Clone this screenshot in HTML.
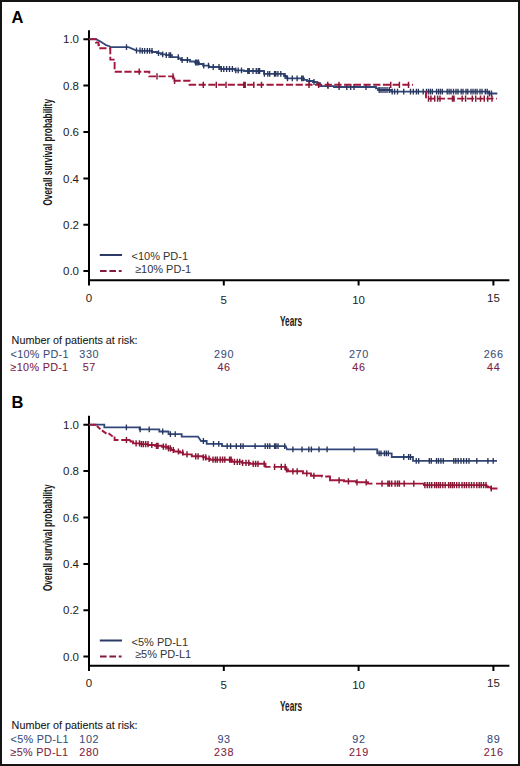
<!DOCTYPE html>
<html><head><meta charset="utf-8"><style>
html,body{margin:0;padding:0;background:#fff;}
body{width:520px;height:766px;overflow:hidden;position:relative;}
.frame{position:absolute;left:0;top:0;width:520px;height:766px;box-sizing:border-box;border:2px solid #141414;border-bottom-width:2.5px;}
svg{position:absolute;left:0;top:0;}
text{font-family:"Liberation Sans",sans-serif;}
.tl{font-size:11.5px;fill:#222;}
.at{font-size:13.8px;fill:#1a1a1a;font-weight:bold;}
.lg{font-size:11px;fill:#333;}
.rk{font-size:10.8px;stroke-width:0.08px;paint-order:stroke;}
</style></head><body>
<div class="frame"></div>
<svg width="520" height="766" viewBox="0 0 520 766">
<g transform="translate(0,0)">
<text x="11.5" y="22.6" font-family="Liberation Sans" font-weight="bold" font-size="16.5" fill="#000">A</text>
<path d="M89,30.2V285.5 M88,280.3H509.4 M83.4,39.2H89 M83.4,85.6H89 M83.4,132H89 M83.4,178.4H89 M83.4,224.8H89 M83.4,271.1H89 M223.8,280.3V285.5 M358.6,280.3V285.5 M493.4,280.3V285.5" stroke="#000" stroke-width="2" fill="none"/>
<text x="79" y="43.4" text-anchor="end" class="tl">1.0</text>
<text x="79" y="89.8" text-anchor="end" class="tl">0.8</text>
<text x="79" y="136.2" text-anchor="end" class="tl">0.6</text>
<text x="79" y="182.5" text-anchor="end" class="tl">0.4</text>
<text x="79" y="228.9" text-anchor="end" class="tl">0.2</text>
<text x="79" y="275.3" text-anchor="end" class="tl">0.0</text>
<text x="89.0" y="301.7" text-anchor="middle" class="tl">0</text>
<text x="223.8" y="303.9" text-anchor="middle" class="tl">5</text>
<text x="358.6" y="303.9" text-anchor="middle" class="tl">10</text>
<text x="493.4" y="301.6" text-anchor="middle" class="tl">15</text>
<text transform="translate(51.6,152.3) rotate(-90) scale(0.63,1)" text-anchor="middle" class="at" style="font-size:13.2px">Overall survival probability</text>
<text transform="translate(291,325.7) scale(0.6,1)" text-anchor="middle" class="at">Years</text>
<path d="M99.8,255H122" stroke="#2b3a66" stroke-width="2"/>
<path d="M100,270.9H121.6" stroke="#861a3a" stroke-width="2" stroke-dasharray="6.6,2.8"/>
<text x="131.5" y="260.2" class="lg">&lt;10% PD-1</text>
<text x="135" y="272.7" class="lg">&#8805;10% PD-1</text>
<text x="11.6" y="343.8" class="rk" fill="#151515" stroke="#151515">Number of patients at risk:</text>
<text x="10.6" y="357.9" class="rk" letter-spacing="0.3" fill="#384c78" stroke="#384c78">&lt;10% PD-1</text>
<text x="89.3" y="357.9" text-anchor="middle" class="rk" letter-spacing="0.65" fill="#384c78" stroke="#384c78">330</text>
<text x="224.1" y="357.9" text-anchor="middle" class="rk" letter-spacing="0.65" fill="#384c78" stroke="#384c78">290</text>
<text x="358.9" y="357.9" text-anchor="middle" class="rk" letter-spacing="0.65" fill="#384c78" stroke="#384c78">270</text>
<text x="493.7" y="357.9" text-anchor="middle" class="rk" letter-spacing="0.65" fill="#384c78" stroke="#384c78">266</text>
<text x="10.6" y="370.9" class="rk" letter-spacing="0.3" fill="#7e2142" stroke="#7e2142">&#8805;10% PD-1</text>
<text x="89.3" y="370.9" text-anchor="middle" class="rk" letter-spacing="0.65" fill="#7e2142" stroke="#7e2142">57</text>
<text x="224.1" y="370.9" text-anchor="middle" class="rk" letter-spacing="0.65" fill="#7e2142" stroke="#7e2142">46</text>
<text x="358.9" y="370.9" text-anchor="middle" class="rk" letter-spacing="0.65" fill="#7e2142" stroke="#7e2142">46</text>
<text x="493.7" y="370.9" text-anchor="middle" class="rk" letter-spacing="0.65" fill="#7e2142" stroke="#7e2142">44</text>
</g>
<path d="M89,39.2 H96 L100,41.3 L104,43.8 L106,45.2 L109.5,46.2 L110.5,47.2 H128.5 L136,50.3 L140,50.8 H152 V52 H157 V53.2 H161 V54.3 H166 V55.2 H172 V57.1 H178.5 V58.5 H181 V60 H190 V61.5 H195 V62.5 H199 V64 H203 V65.6 H209 V67 H220 V69 H235 V70.3 H244 V71 H264 V73.8 H284 V76 H286.5 V78.3 H304 V79.8 H307 V81 H313 V82 H317 V83.2 H320 V86.2 H334 V87 H376 V88.4 H378 V90 H391 V91.6 H488.7 V93.5 H497.3" stroke="#31477a" stroke-width="1.8" fill="none"/>
<path d="M126.5,44.3V50.1M136.5,47.6V53.4M140,47.6V53.4M142.3,47.9V53.7M144.6,47.9V53.7M147.3,47.9V53.7M149.6,47.9V53.7M152,47.9V53.7M158.5,50.3V56.1M162.7,51.4V57.2M166.3,52.3V58.1M169.1,52.3V58.1M170.6,52.3V58.1M178.3,54.2V60.0M182.1,57.1V62.9M187.4,57.1V62.9M195.6,59.6V65.4M197,59.6V65.4M198.5,59.6V65.4M203.75,62.7V68.5M208.5,62.7V68.5M213.2,64.1V69.9M219,64.1V69.9M221.3,66.1V71.9M223.75,66.1V71.9M226.6,66.1V71.9M229.5,66.1V71.9M232.4,66.1V71.9M235.8,67.4V73.2M238.2,67.4V73.2M241.5,67.4V73.2M247.8,68.1V73.9M249.2,68.1V73.9M253,68.1V73.9M256.25,68.1V73.9M258.2,68.1V73.9M259.6,68.1V73.9M264.4,70.9V76.7M267.8,70.9V76.7M269.7,70.9V76.7M274.5,70.9V76.7M275.8,70.9V76.7M277.9,70.9V76.7M280.8,70.9V76.7M285.1,73.1V78.9M287.5,75.4V81.2M292.3,75.4V81.2M297.1,75.4V81.2M301.7,75.4V81.2M303.2,75.4V81.2M309.4,78.1V83.9M314,79.1V84.9M328,83.3V89.1M339.1,84.1V89.9M346.8,84.1V89.9M350.7,84.1V89.9M354,84.1V89.9M366,84.1V89.9M379.2,87.1V92.9M381,87.1V92.9M383,87.1V92.9M385,87.1V92.9M387,87.1V92.9M389.3,87.1V92.9M392.2,88.7V94.5M394.6,88.7V94.5M397.5,88.7V94.5M403.7,88.7V94.5M410.5,88.7V94.5M413.3,88.7V94.5M416.4,88.7V94.5M418.4,88.7V94.5M423.2,88.7V94.5M426.5,88.7V94.5M428.5,88.7V94.5M430.4,88.7V94.5M432.3,88.7V94.5M436.6,88.7V94.5M438.6,88.7V94.5M440.5,88.7V94.5M442.4,88.7V94.5M447.2,88.7V94.5M449.1,88.7V94.5M451,88.7V94.5M453.5,88.7V94.5M456,88.7V94.5M458,88.7V94.5M461.2,88.7V94.5M463,88.7V94.5M466,88.7V94.5M467.8,88.7V94.5M471,88.7V94.5M473,88.7V94.5M475.2,88.7V94.5M477.1,88.7V94.5M480,88.7V94.5M482,88.7V94.5M485.3,88.7V94.5M487.2,88.7V94.5M489.5,90.6V96.4M491.5,90.6V96.4" stroke="#28355a" stroke-width="1.35" fill="none"/>
<path d="M89,39.2 H96 V42.5 H98.5 V45.2 H99 V48.3 H110.3 V59.6 H114.6 V71.7 H149.3 V76.4 H173.4 V80.8 H189.6 V84.8 H413 M426,91 V98.6 H496.8" stroke="#a3173d" stroke-width="1.9" fill="none" stroke-dasharray="7.2,2.5"/>
<path d="M139.2,68.6V74.8M157,73.3V79.5M173,73.3V79.5M174.6,77.7V83.9M203.3,81.7V87.9M216.3,81.7V87.9M226,81.7V87.9M243.8,81.7V87.9M245.2,81.7V87.9M253.8,81.7V87.9M261.5,81.7V87.9M309,81.7V87.9M318.6,81.7V87.9M327.7,81.7V87.9M339,81.7V87.9M390.75,81.7V87.9M399.4,81.7V87.9M408.5,81.7V87.9M428.5,95.5V101.7M430.9,95.5V101.7M434.7,95.5V101.7M437.6,95.5V101.7M440,95.5V101.7M452.5,95.5V101.7M454,95.5V101.7M462.2,95.5V101.7M465.6,95.5V101.7M472.3,95.5V101.7M475.7,95.5V101.7M480.5,95.5V101.7M484.3,95.5V101.7M487.7,95.5V101.7M492,95.5V101.7" stroke="#861735" stroke-width="1.45" fill="none"/>
<g transform="translate(0,385.5)">
<text x="11.5" y="22.6" font-family="Liberation Sans" font-weight="bold" font-size="16.5" fill="#000">B</text>
<path d="M89,30.2V285.5 M88,280.3H509.4 M83.4,39.2H89 M83.4,85.6H89 M83.4,132H89 M83.4,178.4H89 M83.4,224.8H89 M83.4,271.1H89 M223.8,280.3V285.5 M358.6,280.3V285.5 M493.4,280.3V285.5" stroke="#000" stroke-width="2" fill="none"/>
<text x="79" y="43.4" text-anchor="end" class="tl">1.0</text>
<text x="79" y="89.8" text-anchor="end" class="tl">0.8</text>
<text x="79" y="136.2" text-anchor="end" class="tl">0.6</text>
<text x="79" y="182.5" text-anchor="end" class="tl">0.4</text>
<text x="79" y="228.9" text-anchor="end" class="tl">0.2</text>
<text x="79" y="275.3" text-anchor="end" class="tl">0.0</text>
<text x="89.0" y="301.7" text-anchor="middle" class="tl">0</text>
<text x="223.8" y="303.9" text-anchor="middle" class="tl">5</text>
<text x="358.6" y="303.9" text-anchor="middle" class="tl">10</text>
<text x="493.4" y="301.6" text-anchor="middle" class="tl">15</text>
<text transform="translate(51.6,152.3) rotate(-90) scale(0.63,1)" text-anchor="middle" class="at" style="font-size:13.2px">Overall survival probability</text>
<text transform="translate(291,325.7) scale(0.6,1)" text-anchor="middle" class="at">Years</text>
<path d="M99.8,255H122" stroke="#2b3a66" stroke-width="2"/>
<path d="M100,270.9H121.6" stroke="#861a3a" stroke-width="2" stroke-dasharray="6.6,2.8"/>
<text x="131.5" y="260.2" class="lg">&lt;5% PD-L1</text>
<text x="135" y="272.7" class="lg">&#8805;5% PD-L1</text>
<text x="11.6" y="343.8" class="rk" fill="#151515" stroke="#151515">Number of patients at risk:</text>
<text x="10.6" y="357.9" class="rk" letter-spacing="0.3" fill="#384c78" stroke="#384c78">&lt;5% PD-L1</text>
<text x="89.3" y="357.9" text-anchor="middle" class="rk" letter-spacing="0.65" fill="#384c78" stroke="#384c78">102</text>
<text x="224.1" y="357.9" text-anchor="middle" class="rk" letter-spacing="0.65" fill="#384c78" stroke="#384c78">93</text>
<text x="358.9" y="357.9" text-anchor="middle" class="rk" letter-spacing="0.65" fill="#384c78" stroke="#384c78">92</text>
<text x="493.7" y="357.9" text-anchor="middle" class="rk" letter-spacing="0.65" fill="#384c78" stroke="#384c78">89</text>
<text x="10.6" y="370.9" class="rk" letter-spacing="0.3" fill="#7e2142" stroke="#7e2142">&#8805;5% PD-L1</text>
<text x="89.3" y="370.9" text-anchor="middle" class="rk" letter-spacing="0.65" fill="#7e2142" stroke="#7e2142">280</text>
<text x="224.1" y="370.9" text-anchor="middle" class="rk" letter-spacing="0.65" fill="#7e2142" stroke="#7e2142">238</text>
<text x="358.9" y="370.9" text-anchor="middle" class="rk" letter-spacing="0.65" fill="#7e2142" stroke="#7e2142">219</text>
<text x="493.7" y="370.9" text-anchor="middle" class="rk" letter-spacing="0.65" fill="#7e2142" stroke="#7e2142">216</text>
</g>
<path d="M89,424.7 H104.3 V427.3 H139.6 V429.3 H159.3 V431.5 H168.5 V434.2 H181.7 V436.7 H198 L200,439.5 L201,441 H206.7 V443.9 H222 V446.2 H285.7 L287,449.3 H377.2 V453.3 H391.7 V457 H413 V460.9 H497" stroke="#31477a" stroke-width="1.8" fill="none"/>
<path d="M126.4,424.4V430.2M140.1,426.4V432.2M149.2,426.4V432.2M162.7,428.6V434.4M170.4,431.3V437.1M175.2,431.3V437.1M203.4,438.1V443.9M213.5,441.0V446.8M218.75,441.0V446.8M227.2,443.3V449.1M230.6,443.3V449.1M236.3,443.3V449.1M240.7,443.3V449.1M243.1,443.3V449.1M255.1,443.3V449.1M265.2,443.3V449.1M267.6,443.3V449.1M269.8,443.3V449.1M274.6,443.3V449.1M276,443.3V449.1M278,443.3V449.1M284.7,443.3V449.1M292.9,446.4V452.2M302,446.4V452.2M308.8,446.4V452.2M311.4,446.4V452.2M319,446.4V452.2M327.1,446.4V452.2M354.1,446.4V452.2M379.1,450.4V456.2M381,450.4V456.2M384.4,450.4V456.2M386.3,450.4V456.2M388.3,450.4V456.2M403.75,454.1V459.9M408.6,454.1V459.9M410.5,454.1V459.9M416.25,458.0V463.8M418.7,458.0V463.8M429.3,458.0V463.8M431.25,458.0V463.8M436.5,458.0V463.8M438.5,458.0V463.8M440.9,458.0V463.8M443.3,458.0V463.8M453.8,458.0V463.8M455.8,458.0V463.8M458.2,458.0V463.8M461,458.0V463.8M463.7,458.0V463.8M466.5,458.0V463.8M469,458.0V463.8M476.8,458.0V463.8M487.9,458.0V463.8M493.2,458.0V463.8" stroke="#28355a" stroke-width="1.35" fill="none"/>
<path d="M89,424.7 H96.5 M96.9,426 L100.4,429.2 M101.9,430.4 L106.5,433.6 M108.5,433.3 L112.7,436.6 M114.6,436.6 V440 H118.5 M121.2,440 H130.5 M130.5,440.0 V441.5 H133.0 V443.4 H140.0 V444.1 H148.0 V445.0 H155.0 V445.8 H162.0 V446.7 H168.0 V448.3 H171.0 V450.0 H174.0 V451.5 H180.0 V452.5 H183.0 V454.4 H191.8 V456.3 H203.0 V457.3 H206.0 V458.75 H210.0 V459.7 H232.0 V461.8 H242.0 V462.9 H250.0 V463.8 H265.5 V466.9 H270.5 M273.5,466.9 H285.5 V469.5 H288.0 V471.3 H303.0 V473.4 H311.0 V475.8 H322.0 V476.5 H322.4 M325.2,476.5 H330.0 V480.3 H344.0 V481.3 H356.0 V482.3 H368.0 V483.6 H372.5 M376,483.6 H424.0 V485.1 H486.5 V486.5 H488.0 V487.3 H491.0 V488.5 H497.5" stroke="#a3173d" stroke-width="1.9" fill="none"/>
<path d="M126.4,436.9V443.1M136.1,440.3V446.5M139.5,440.3V446.5M141.5,441.0V447.2M143.4,441.0V447.2M145.7,441.0V447.2M148,441.0V447.2M151.8,441.9V448.1M156.5,442.7V448.9M158,442.7V448.9M163.4,443.6V449.8M166,443.6V449.8M168.5,445.2V451.4M170.4,445.2V451.4M173.3,446.9V453.1M178.4,448.4V454.6M182.7,449.4V455.6M187,451.3V457.5M195.7,453.2V459.4M198.1,453.2V459.4M203.4,454.2V460.4M205.8,454.2V460.4M209.1,455.6V461.9M213,456.6V462.8M215.4,456.6V462.8M217.3,456.6V462.8M220.2,456.6V462.8M222.6,456.6V462.8M224.8,456.6V462.8M229.6,456.6V462.8M231.1,456.6V462.8M234.4,458.7V464.9M237.3,458.7V464.9M239.7,458.7V464.9M242.6,459.8V466.0M246,459.8V466.0M248.8,459.8V466.0M253.2,460.7V466.9M255.6,460.7V466.9M258,460.7V466.9M264.2,460.7V466.9M274.6,463.8V470.0M281.3,463.8V470.0M285.2,463.8V470.0M286.6,466.4V472.6M292.9,468.2V474.4M297.2,468.2V474.4M306.8,470.3V476.5M313.9,472.7V478.9M339.1,477.2V483.4M348.4,478.2V484.4M357,479.2V485.4M366.2,479.2V485.4M382,480.5V486.7M387.9,480.5V486.7M389.5,480.5V486.7M391.7,480.5V486.7M395.1,480.5V486.7M397.5,480.5V486.7M399.4,480.5V486.7M404.2,480.5V486.7M413.8,480.5V486.7M424.9,482.0V488.2M427.3,482.0V488.2M429.5,482.0V488.2M431.7,482.0V488.2M434.6,482.0V488.2M436.5,482.0V488.2M438.5,482.0V488.2M440.4,482.0V488.2M442.8,482.0V488.2M445.2,482.0V488.2M448.6,482.0V488.2M450.5,482.0V488.2M452.4,482.0V488.2M454.3,482.0V488.2M456.7,482.0V488.2M459.1,482.0V488.2M462,482.0V488.2M464.4,482.0V488.2M466.5,482.0V488.2M469,482.0V488.2M471.5,482.0V488.2M474,482.0V488.2M476.8,482.0V488.2M479.2,482.0V488.2M481.2,482.0V488.2M483.6,482.0V488.2M486,482.0V488.2M491.25,485.4V491.6" stroke="#861735" stroke-width="1.45" fill="none"/>
</svg>
</body></html>
